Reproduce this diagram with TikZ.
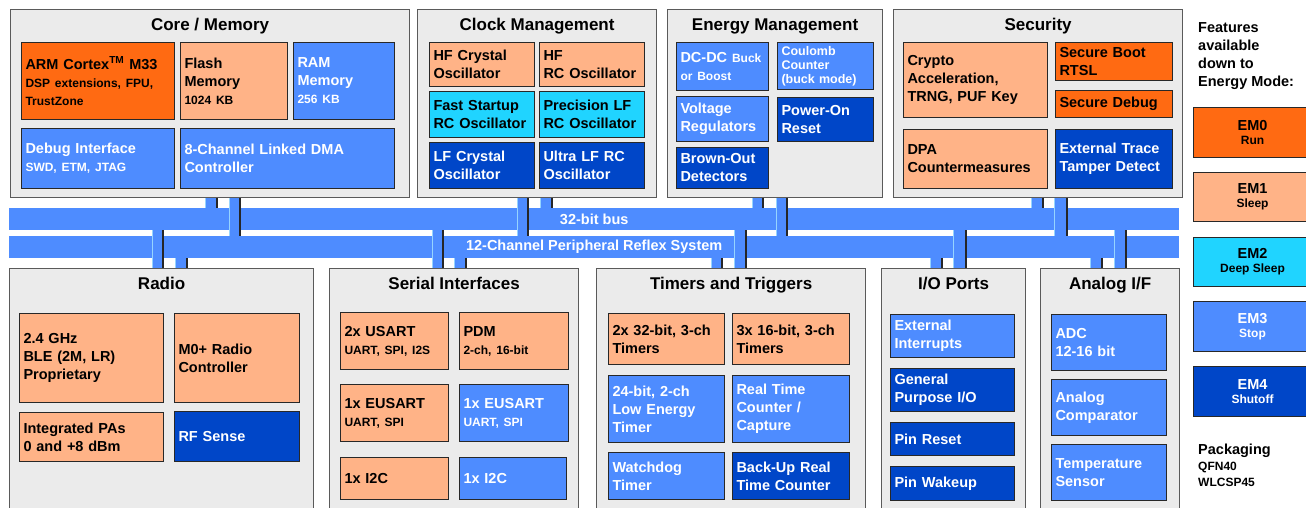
\documentclass[tikz,border=0pt]{standalone}
\usepackage{fontspec}
\setmainfont{Liberation Sans}
\usetikzlibrary{positioning}

\definecolor{panelfill}{RGB}{235,235,235}
\definecolor{panelline}{RGB}{90,90,90}
\definecolor{boxline}{RGB}{40,40,40}
\definecolor{cRun}{RGB}{255,106,18}
\definecolor{cSleep}{RGB}{255,179,135}
\definecolor{cDeep}{RGB}{32,212,255}
\definecolor{cStop}{RGB}{78,140,255}
\definecolor{cOff}{RGB}{0,70,200}
\definecolor{busfill}{RGB}{78,140,255}
\definecolor{stubedge}{RGB}{150,212,255}

\newcommand\mainf{\fontsize{14.5}{18}\selectfont\bfseries}
\newcommand\subf{\fontsize{12}{14}\selectfont}
\newcommand\ttlf{\fontsize{17}{20}\selectfont\bfseries}

\begin{document}
\begin{tikzpicture}[x=1pt, y=-1pt,
    panel/.style args={#1/#2}{draw=panelline, fill=panelfill, line width=1.2pt, anchor=north west,
        minimum width=#1pt, minimum height=#2pt, inner sep=0pt},
    ttl/.style={anchor=base, font=\ttlf, inner sep=0pt},
    blk/.style args={#1/#2}{draw=boxline, line width=1pt, anchor=north west, minimum width=#1pt,
        minimum height=#2pt, text width=#1pt-8pt, inner xsep=4pt, inner ysep=0pt, align=left, font=\mainf},
    emrun/.style={fill=cRun}, emsleep/.style={fill=cSleep}, emdeep/.style={fill=cDeep},
    emstop/.style={fill=cStop, text=white}, emoff/.style={fill=cOff, text=white},
    busbar/.style={fill=busfill, text=white, font=\mainf, anchor=north west, minimum width=1170pt,
        minimum height=22pt, inner sep=0pt},
    emkey/.style={draw=boxline, line width=1pt, minimum width=118pt, minimum height=49.5pt, align=center,
        font=\fontsize{14.5}{14}\selectfont\bfseries, inner sep=0pt}]
    \clip (0,0) rectangle (1306,508);

    % Top panels
    \node[panel=399/188] (core) at (10,9) {};
    \node[ttl] (coreT) at ([yshift=-22pt]core.north) {Core / Memory};
    \node[panel=239/188] (clock) at (417,9) {};
    \node[ttl] (clockT) at ([yshift=-22pt]clock.north) {Clock Management};
    \node[panel=215/188] (energy) at (667,9) {};
    \node[ttl] (energyT) at ([yshift=-22pt]energy.north) {Energy Management};
    \node[panel=289/188] (security) at (893,9) {};
    \node[ttl] (securityT) at ([yshift=-22pt]security.north) {Security};

    % Core / Memory
    \node[blk=153/77, emrun] (arm) at (21,42) {ARM Cortex\textsuperscript{TM} M33\\{\subf DSP extensions, FPU,}\\{\subf TrustZone}};
    \node[blk=107/77, emsleep] (flash) at (180,42) {Flash\\Memory\\{\subf 1024 KB}};
    \node[blk=101/77, emstop] (ram) at (293,42) {RAM\\Memory\\{\subf 256 KB}};
    \node[blk=153/60, emstop] (debug) at (21,128) {Debug Interface\\{\subf SWD, ETM, JTAG}};
    \node[blk=214/60, emstop] (dma) at (180,128) {8-Channel Linked DMA\\Controller};

    % Clock Management
    \node[blk=105/44, emsleep] (hfxo) at (429,42) {HF Crystal\\Oscillator};
    \node[blk=105/44, emsleep] (hfrco) at (539,42) {HF\\RC Oscillator};
    \node[blk=105/46, emdeep] (fsrco) at (429,91) {Fast Startup\\RC Oscillator};
    \node[blk=105/46, emdeep] (lfrco) at (539,91) {Precision LF\\RC Oscillator};
    \node[blk=105/46, emoff] (lfxo) at (429,142) {LF Crystal\\Oscillator};
    \node[blk=105/46, emoff] (ulfrco) at (539,142) {Ultra LF RC\\Oscillator};

    % Energy Management
    \node[blk=92/48, emstop] (dcdc) at (676,42) {DC-DC {\subf Buck}\\{\subf or Boost}};
    \node[blk=96/47, emstop, font=\fontsize{12.5}{14}\selectfont\bfseries] (coulomb) at (777,42) {Coulomb\\Counter\\(buck mode)};
    \node[blk=92/45, emstop] (vreg) at (676,96) {Voltage\\Regulators};
    \node[blk=96/44, emoff] (por) at (777,97) {Power-On\\Reset};
    \node[blk=92/41, emoff] (bod) at (676,147) {Brown-Out\\Detectors};

    % Security
    \node[blk=144/75, emsleep] (crypto) at (903,42) {Crypto\\Acceleration,\\TRNG, PUF Key};
    \node[blk=117/38, emrun] (sboot) at (1055,42) {Secure Boot\\RTSL};
    \node[blk=117/27, emrun] (sdebug) at (1055,90) {Secure Debug};
    \node[blk=144/59, emsleep] (dpa) at (903,129) {DPA\\Countermeasures};
    \node[blk=117/59, emoff] (tamper) at (1055,129) {External Trace\\Tamper Detect};

    % Buses
    \node[busbar] (bus32) at (9,208) {32-bit bus};
    \node[busbar] (bus12) at (9,236) {12-Channel Peripheral Reflex System};

    % Bottom panels
    \node[panel=304/260] (radio) at (9,268) {};
    \node[ttl] (radioT) at ([yshift=-21pt]radio.north) {Radio};
    \node[panel=249/260] (serial) at (329,268) {};
    \node[ttl] (serialT) at ([yshift=-21pt]serial.north) {Serial Interfaces};
    \node[panel=269/260] (timers) at (596,268) {};
    \node[ttl] (timersT) at ([yshift=-21pt]timers.north) {Timers and Triggers};
    \node[panel=144/260] (io) at (881,268) {};
    \node[ttl] (ioT) at ([yshift=-21pt]io.north) {I/O Ports};
    \node[panel=139/260] (analog) at (1040,268) {};
    \node[ttl] (analogT) at ([yshift=-21pt]analog.north) {Analog I/F};

    % Radio
    \node[blk=144/89, emsleep] (rf) at (19,313) {2.4 GHz\\BLE (2M, LR)\\Proprietary};
    \node[blk=125/89, emsleep] (m0) at (174,313) {M0+ Radio\\Controller};
    \node[blk=144/49, emsleep] (pa) at (19,412) {Integrated PAs\\0 and +8 dBm};
    \node[blk=125/50, emoff] (rfsense) at (174,411) {RF Sense};

    % Serial Interfaces
    \node[blk=108/57, emsleep] (usart) at (340,312) {2x USART\\{\subf UART, SPI, I2S}};
    \node[blk=109/57, emsleep] (pdm) at (459,312) {PDM\\{\subf 2-ch, 16-bit}};
    \node[blk=108/57, emsleep] (eusartA) at (340,384) {1x EUSART\\{\subf UART, SPI}};
    \node[blk=109/57, emstop] (eusartB) at (459,384) {1x EUSART\\{\subf UART, SPI}};
    \node[blk=108/42, emsleep] (iicA) at (340,457) {1x I2C};
    \node[blk=107/42, emstop] (iicB) at (459,457) {1x I2C};

    % Timers and Triggers
    \node[blk=116/51, emsleep] (timA) at (608,313) {2x 32-bit, 3-ch\\Timers};
    \node[blk=117/51, emsleep] (timB) at (732,313) {3x 16-bit, 3-ch\\Timers};
    \node[blk=116/67, emstop] (letimer) at (608,375) {24-bit, 2-ch\\Low Energy\\Timer};
    \node[blk=117/67, emstop] (rtcc) at (732,375) {Real Time\\Counter /\\Capture};
    \node[blk=116/47, emstop] (wdog) at (608,452) {Watchdog\\Timer};
    \node[blk=117/47, emoff] (burtc) at (732,452) {Back-Up Real\\Time Counter};

    % I/O Ports
    \node[blk=124/43, emstop] (extint) at (890,314) {External\\Interrupts};
    \node[blk=124/43, emoff] (gpio) at (890,368) {General\\Purpose I/O};
    \node[blk=124/33, emoff] (pinrst) at (890,422) {Pin Reset};
    \node[blk=124/34, emoff] (pinwake) at (890,466) {Pin Wakeup};

    % Analog I/F
    \node[blk=115/56, emstop] (adc) at (1051,314) {ADC\\12-16 bit};
    \node[blk=115/56, emstop] (acmp) at (1051,379) {Analog\\Comparator};
    \node[blk=115/56, emstop] (temp) at (1051,444) {Temperature\\Sensor};

    % Bus taps
    \foreach \a/\b/\p/\q in {205/217/core/bus32, 229/240/core/bus12, 517/528/clock/bus12,
        540/552/clock/bus32, 752/763/energy/bus32, 776/787/energy/bus12, 1031/1043/security/bus32,
        1054/1067/security/bus12, 152/163/bus32/radio, 175/187/bus12/radio, 432/443/bus32/serial,
        454/466/bus12/serial, 711/722/bus12/timers, 734/746/bus32/timers, 930/942/bus12/io,
        953/966/bus32/io, 1090/1102/bus12/analog, 1114/1126/bus32/analog} {
        \fill[busfill] (\a,0 |- \p.south) rectangle (\b,0 |- \q.north);
        \draw[stubedge, line width=1pt] (\a,0 |- \p.south) -- (\a,0 |- \q.north);
        \draw[black!85, line width=1.3pt] (\b,0 |- \p.south) -- (\b,0 |- \q.north);
    }

    % Energy mode key
    \node[anchor=north west, align=left, font=\mainf, inner sep=0pt] (feat) at (1198,22.5) {Features\\available\\down to\\Energy Mode:};
    \node[emkey, emrun, anchor=north west] (em0) at (1193,107) {EM0\\{\subf Run}};
    \node[emkey, emsleep, below=14.25pt of em0] (em1) {EM1\\{\subf Sleep}};
    \node[emkey, emdeep, below=14.25pt of em1] (em2) {EM2\\{\subf Deep Sleep}};
    \node[emkey, emstop, below=14.25pt of em2] (em3) {EM3\\{\subf Stop}};
    \node[emkey, emoff, below=14.25pt of em3] (em4) {EM4\\{\subf Shutoff}};
    \node[anchor=north west, align=left, font=\fontsize{14.5}{16}\selectfont\bfseries, inner sep=0pt] (pkg) at (1198,443.5) {Packaging\\{\subf QFN40}\\{\subf WLCSP45}};
\end{tikzpicture}
\end{document}
